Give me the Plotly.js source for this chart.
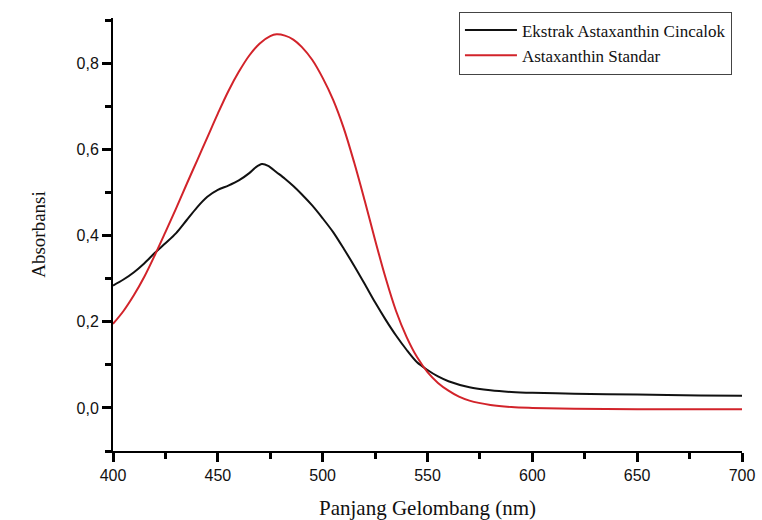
<!DOCTYPE html>
<html>
<head>
<meta charset="utf-8">
<script src="https://cdn.plot.ly/plotly-3.0.1.min.js"></script>
<style>html,body{margin:0;padding:0;background:#fff;}#chart{width:762px;height:520px;}</style>
</head>
<body>
<div id="chart"></div>
<script>
// Wavelength (nm) and absorbance
const extractWavelength = [400, 405, 410, 415, 420, 425, 430, 435, 440, 445, 450, 455, 460, 465, 468, 471, 474, 478, 482, 486, 490, 495, 500, 505, 510, 515, 520, 525, 530, 535, 540, 545, 550, 555, 560, 570, 580, 590, 600, 620, 650, 680, 700];
const extractAbsorbance = [0.284, 0.298, 0.315, 0.336, 0.360, 0.382, 0.405, 0.435, 0.465, 0.490, 0.506, 0.516, 0.528, 0.545, 0.558, 0.566, 0.562, 0.547, 0.532, 0.515, 0.496, 0.470, 0.440, 0.408, 0.370, 0.330, 0.288, 0.245, 0.205, 0.168, 0.135, 0.106, 0.088, 0.073, 0.062, 0.048, 0.041, 0.037, 0.035, 0.033, 0.031, 0.029, 0.028];

const standardWavelength = [400, 405, 410, 415, 420, 425, 430, 435, 440, 445, 450, 455, 460, 465, 470, 475, 478, 482, 486, 490, 495, 500, 505, 510, 515, 520, 525, 530, 535, 540, 545, 550, 555, 560, 565, 570, 580, 590, 600, 620, 650, 700];
const standardAbsorbance = [0.195, 0.225, 0.262, 0.305, 0.355, 0.408, 0.462, 0.518, 0.573, 0.628, 0.683, 0.735, 0.780, 0.818, 0.846, 0.863, 0.867, 0.864, 0.855, 0.838, 0.808, 0.766, 0.715, 0.650, 0.570, 0.482, 0.390, 0.302, 0.225, 0.165, 0.118, 0.083, 0.058, 0.040, 0.026, 0.017, 0.007, 0.002, 0.0, -0.002, -0.003, -0.003];

const seriesNames = ["Ekstrak Astaxanthin Cincalok", "Astaxanthin Standar"];

const traces = [
  {x: extractWavelength, y: extractAbsorbance, name: seriesNames[0], mode: "lines",
   line: {color: "#111111", width: 2, shape: "spline", smoothing: 0.8}},
  {x: standardWavelength, y: standardAbsorbance, name: seriesNames[1], mode: "lines",
   line: {color: "#d2232a", width: 2, shape: "spline", smoothing: 1}}
];

const layout = {
  width: 762, height: 520,
  margin: {l: 113, r: 20, t: 16, b: 69},
  separators: ",.",
  showlegend: true,
  legend: {x: 0.55, xanchor: "left", y: 1.015, yanchor: "top",
    bordercolor: "#444", borderwidth: 1, bgcolor: "#fff",
    itemwidth: 52,
    font: {family: "Liberation Serif, Times New Roman, serif", size: 17, color: "#111"},
    tracegroupgap: 0},
  xaxis: {
    range: [400, 700], gridcolor: "rgba(0,0,0,0)", zerolinecolor: "rgba(0,0,0,0)",
    showline: true, linecolor: "black", linewidth: 2,
    ticks: "outside", ticklen: 9, tickwidth: 3, tickcolor: "black", dtick: 50,
    minor: {dtick: 25, ticks: "outside", ticklen: 6, tickwidth: 3, tickcolor: "black"},
    tickfont: {family: "Liberation Sans, Arial, sans-serif", size: 16, color: "#111"},
    title: {text: "Panjang Gelombang (nm)", standoff: 18,
      font: {family: "Liberation Serif, Times New Roman, serif", size: 21, color: "#111"}}
  },
  yaxis: {
    range: [-0.1, 0.905], gridcolor: "rgba(0,0,0,0)", zerolinecolor: "rgba(0,0,0,0)",
    showline: true, linecolor: "black", linewidth: 2,
    ticks: "outside", ticklen: 9, tickwidth: 3, tickcolor: "black", dtick: 0.2, tickformat: ".1f",
    minor: {dtick: 0.1, ticks: "outside", ticklen: 6, tickwidth: 3, tickcolor: "black"},
    tickfont: {family: "Liberation Sans, Arial, sans-serif", size: 16, color: "#111"},
    title: {text: "Absorbansi", standoff: 26,
      font: {family: "Liberation Serif, Times New Roman, serif", size: 19, color: "#111"}}
  }
};

Plotly.newPlot("chart", traces, layout, {displayModeBar: false});
</script>
</body>
</html>
